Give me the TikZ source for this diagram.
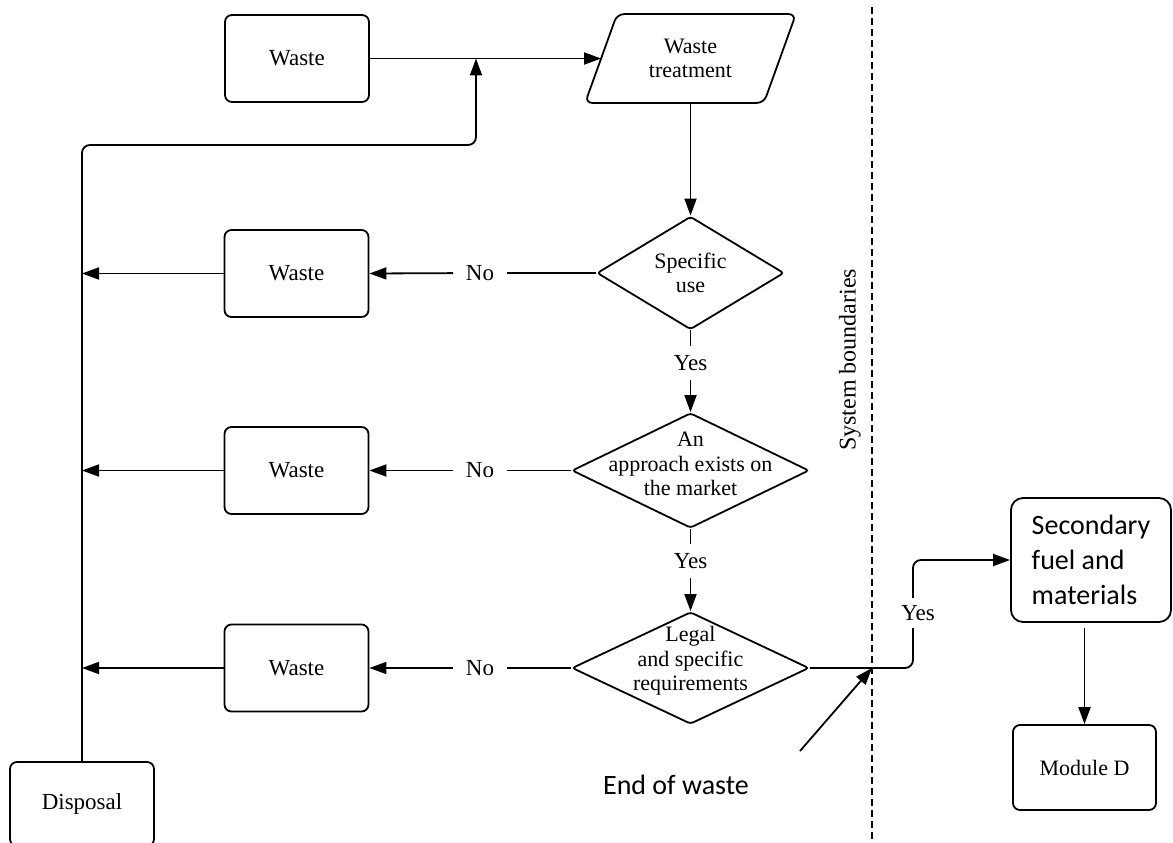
\documentclass[tikz,border=0pt]{standalone}
\usepackage{fontspec}
\setmainfont{Liberation Serif}
\newfontfamily\calib{Carlito}
\usetikzlibrary{shapes.geometric,arrows.meta,calc}
\begin{document}
\begin{tikzpicture}[x=1pt,y=-1pt,
  line width=1.8pt,
  every node/.style={font=\fontsize{23}{24.5}\selectfont},
  box/.style={draw, rounded corners=7pt, minimum width=144pt, minimum height=87pt, inner sep=0pt},
  dia/.style={draw, diamond, rounded corners=3pt, inner sep=0pt},
  txt/.style={align=center, inner sep=0pt, font=\fontsize{22}{24.5}\selectfont},
  lbl/.style={inner xsep=12pt, inner ysep=7pt},
  sans/.style={font=\calib\fontsize{28}{35}\selectfont},
  arr/.style={-{Triangle[length=17pt,width=12pt]}},
  bound/.style={dash pattern=on 7pt off 4pt},
]
\useasboundingbox (0,0) rectangle (1173,843);
\clip (0,0) rectangle (1173,843);

% main column
\node[box] (w1) at (297,58.5) {Waste};
\node[txt, minimum width=177pt, minimum height=87pt] (wt) at (690.5,58.5) {Waste\\treatment};
\draw[rounded corners=7pt] (wt.north) -- ($(wt.north east)+(16,0)$) -- ($(wt.south east)+(-16,0)$)
   -- ($(wt.south west)+(-16,0)$) -- ($(wt.north west)+(16,0)$) -- (wt.north);

\node[dia, minimum width=187pt, minimum height=113pt] (d1) at (690.5,273) {};
\node[txt] (d1t) at (690.5,273) {Specific\\use};
\node[dia, minimum width=237pt, minimum height=115pt] (d2) at (690.5,470.5) {};
\node[txt] (d2t) at (690.5,464) {An\\approach exists on\\the market};
\node[dia, minimum width=237pt, minimum height=112pt] (d3) at (690.5,668) {};
\node[txt] (d3t) at (690.5,661) {Legal\\and specific\\requirements};

% waste boxes on the left
\node[box] (w2) at (296.5,273.5) {Waste};
\node[box] (w3) at (296.5,470.5) {Waste};
\node[box] (w4) at (296.5,668) {Waste};
\node[box, minimum height=84pt] (disp) at (82,804) {Disposal};

% labels
\node[lbl] (no1) at (480,273) {No};
\node[lbl] (no2) at (480,470.5) {No};
\node[lbl] (no3) at (480,668) {No};
\node[lbl, inner ysep=8pt] (yes1) at (690.5,363) {Yes};
\node[lbl, inner ysep=8pt] (yes2) at (690.5,561) {Yes};

% right side
\node[box, rounded corners=12pt, minimum width=160pt, minimum height=124pt, sans, align=left] (sec) at (1091,560) {Secondary\\fuel and\\materials};
\node[box, minimum width=143pt, minimum height=85pt, font=\fontsize{22}{24}\selectfont] (md) at (1084.5,767.5) {Module D};

% system boundary
\coordinate (sbt) at (872,7);
\coordinate (sbb) at (872,843);
\draw[bound] (sbt) -- (sbb);
\node[rotate=90, font=\fontsize{24}{26}\selectfont] (sbl) at (850,360) {System boundaries};

\node[sans] (eow) at (676,785) {End of waste};
\coordinate (eowt) at (800,751);
\coordinate (jn) at (872,668);

% connectors
\coordinate (j1) at (476,58.5);
\draw[arr] (w1.east) -- (wt.west);
\draw[arr, rounded corners=8pt] (disp.north) -- (82,145) -- (476,145) -- (j1);
\draw[arr] (wt.south) -- (d1.north);

\draw (d1.south) -- (yes1);
\draw[arr] (yes1) -- (d2.north);
\draw (d2.south) -- (yes2);
\draw[arr] (yes2) -- (d3.north);

\draw (d1.west) -- (no1);
\draw[arr] (no1) -- (w2.east);
\draw (d2.west) -- (no2);
\draw[arr] (no2) -- (w3.east);
\draw (d3.west) -- (no3);
\draw[arr] (no3) -- (w4.east);

\draw[arr] (w2.west) -- (disp.north |- w2.west);
\draw[arr] (w3.west) -- (disp.north |- w3.west);
\draw[arr] (w4.west) -- (disp.north |- w4.west);

\draw[arr, rounded corners=8pt] (d3.east) -- (913,668) -- (913,560) -- (sec.west);
\node[fill=white, inner xsep=1pt, inner ysep=7pt] (yes3) at (918,613) {Yes};

\draw[arr, shorten <=5pt] (sec.south -| md.north) -- (md.north);
\draw[arr] (eowt) -- (jn);
\end{tikzpicture}
\end{document}
